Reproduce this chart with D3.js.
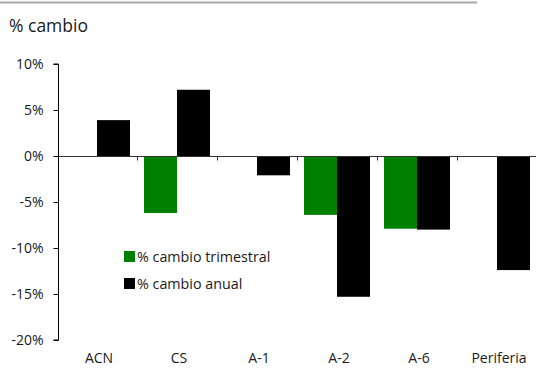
<!DOCTYPE html>
<html><head><meta charset="utf-8">
<script src="https://cdn.jsdelivr.net/npm/d3@7"></script>
<style>body{margin:0;background:#fff}svg{display:block}text{font-family:"Open Sans","DejaVu Sans",sans-serif;fill:#1a1a1a}</style>
</head><body>
<svg id="c" width="536" height="370"></svg>
<script>
const categories = ["ACN","CS","A-1","A-2","A-6","Periferia"];
const trimestral = [null,-6.2,null,-6.4,-7.9,null];
const anual = [3.9,7.2,-2.1,-15.3,-8.0,-12.4];
const yTicks = [10,5,0,-5,-10,-15,-20];
const seriesNames = ["% cambio trimestral","% cambio anual"];
const colors = ["#008000","#000000"];

const svg = d3.select("#c");
const x = d3.scaleBand().domain(categories).range([57,537]).paddingInner(0).paddingOuter(0);
const y = d3.scaleLinear().domain([-20,10]).range([340,64]);
const x1 = d3.scaleBand().domain([0,1]).range([7,73]);

svg.append("line").attr("x1",0).attr("x2",477).attr("y1",2.5).attr("y2",2.5).attr("stroke","#a8a8a8").attr("stroke-width",2);
svg.append("text").attr("x",9).attr("y",32).attr("font-size",17.5).text("% cambio");

[trimestral, anual].forEach((vals,si)=>{
  svg.append("g").selectAll("rect").data(categories.map((c,i)=>({c,v:vals[i]})).filter(d=>d.v!==null))
    .join("rect")
    .attr("x",d=>x(d.c)+x1(si)).attr("width",x1.bandwidth())
    .attr("y",d=>y(Math.max(0,d.v))).attr("height",d=>Math.abs(y(d.v)-y(0)))
    .attr("fill",colors[si]);
});

const ya = svg.append("g").attr("transform","translate(58.5,0)")
  .call(d3.axisLeft(y).tickValues(yTicks).tickFormat(d=>d+"%").tickSize(5).tickPadding(10));
ya.select(".domain").attr("d","M-5,"+y(10)+"H0V"+y(-20)+"H-5").attr("stroke","#000");
ya.selectAll("text").attr("font-size",14).attr("font-family","Open Sans, DejaVu Sans, sans-serif").attr("fill","#1a1a1a");

const zy = Math.round(y(0))+0.5;
svg.append("line").attr("x1",58).attr("x2",536).attr("y1",zy).attr("y2",zy).attr("stroke","#333").attr("stroke-width",1);
svg.append("g").selectAll("line").data(categories.slice(1)).join("line")
  .attr("x1",d=>Math.round(x(d))+0.5).attr("x2",d=>Math.round(x(d))+0.5)
  .attr("y1",zy).attr("y2",zy+4).attr("stroke","#333");

svg.append("g").selectAll("text").data(categories).join("text")
  .attr("x",d=>x(d)+x.bandwidth()/2+2).attr("y",363).attr("text-anchor","middle").attr("font-size",14)
  .text(d=>d);

const lg = svg.append("g");
seriesNames.forEach((n,i)=>{
  lg.append("rect").attr("x",124).attr("y",251+i*27).attr("width",11).attr("height",11).attr("fill",colors[i]);
  lg.append("text").attr("x",137).attr("y",262+i*27).attr("font-size",14.3).text(n);
});
</script>
</body></html>
